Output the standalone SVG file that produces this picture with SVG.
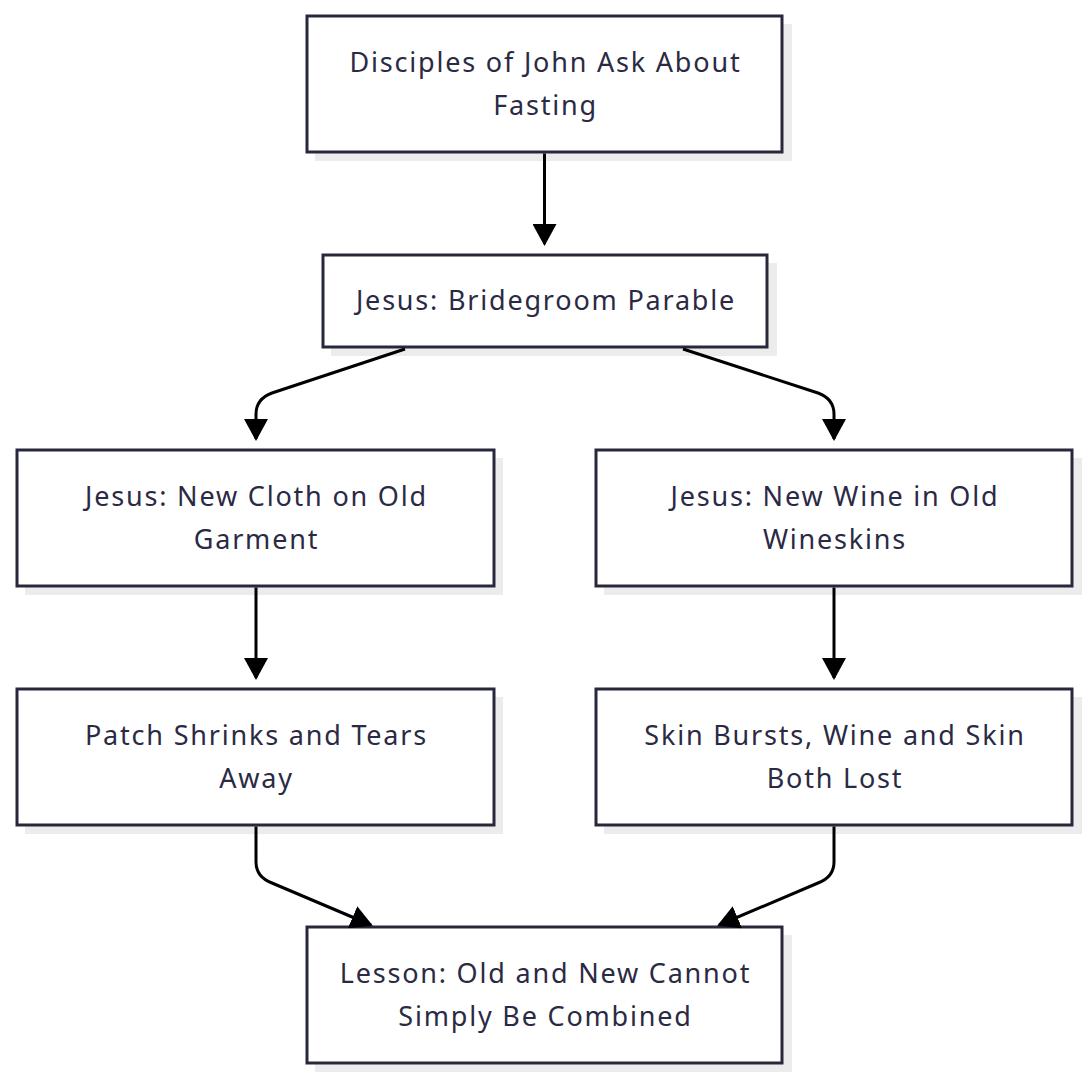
<svg xmlns="http://www.w3.org/2000/svg" width="1090" height="1080" viewBox="0 0 1090 1080">
<style>
.shadow{fill:#ececec;}
.box{fill:#ffffff;stroke:#28283c;stroke-width:3;}
.lbl{font-family:"Noto Sans","Open Sans","DejaVu Sans",sans-serif;font-size:27px;letter-spacing:1.8px;fill:#2b2a44;text-anchor:middle;dominant-baseline:central;}
.edge{fill:none;stroke:#000;stroke-width:3;}
</style>
<defs>
<marker id="arr" viewBox="0 0 22 24" refX="20" refY="12" markerWidth="22" markerHeight="24" markerUnits="userSpaceOnUse" orient="auto">
<path d="M0,0 L22,12 L0,24 z" fill="#000"/>
</marker>
</defs>
<rect width="1090" height="1080" fill="#ffffff"/>
<g id="n1">
<rect class="shadow" x="315" y="24" width="477" height="137"/>
<rect class="box" x="307" y="16" width="475" height="136"/>
<text class="lbl" x="545.5" y="61">Disciples of John Ask About</text>
<text class="lbl" x="545.5" y="104">Fasting</text>
</g>
<g id="n2">
<rect class="shadow" x="331" y="263" width="446" height="93"/>
<rect class="box" x="323" y="255" width="444" height="92"/>
<text class="lbl" x="546" y="299.5">Jesus: Bridegroom Parable</text>
</g>
<g id="n3">
<rect class="shadow" x="25" y="458" width="478" height="137"/>
<rect class="box" x="17" y="450" width="477" height="136"/>
<text class="lbl" x="256.5" y="495">Jesus: New Cloth on Old</text>
<text class="lbl" x="256.5" y="538">Garment</text>
</g>
<g id="n4">
<rect class="shadow" x="604" y="458" width="478" height="137"/>
<rect class="box" x="596" y="450" width="476" height="136"/>
<text class="lbl" x="835" y="495">Jesus: New Wine in Old</text>
<text class="lbl" x="835" y="538">Wineskins</text>
</g>
<g id="n5">
<rect class="shadow" x="25" y="697" width="478" height="137"/>
<rect class="box" x="17" y="689" width="477" height="136"/>
<text class="lbl" x="256.5" y="734">Patch Shrinks and Tears</text>
<text class="lbl" x="256.5" y="777">Away</text>
</g>
<g id="n6">
<rect class="shadow" x="604" y="697" width="478" height="137"/>
<rect class="box" x="596" y="689" width="476" height="136"/>
<text class="lbl" x="835" y="734">Skin Bursts, Wine and Skin</text>
<text class="lbl" x="835" y="777">Both Lost</text>
</g>
<g id="n7">
<rect class="shadow" x="315" y="935" width="477" height="137"/>
<rect class="box" x="307" y="927" width="475" height="136"/>
<text class="lbl" x="545.5" y="972">Lesson: Old and New Cannot</text>
<text class="lbl" x="545.5" y="1015">Simply Be Combined</text>
</g>
<g id="connectors">
<path class="edge" marker-end="url(#arr)" d="M544.5,153.5 L544.5,244"/>
<path class="edge" marker-end="url(#arr)" d="M405,349 L272,393 Q256,399 256,414 L256,439"/>
<path class="edge" marker-end="url(#arr)" d="M683,349 L818,393 Q834,399 834,414 L834,439"/>
<path class="edge" marker-end="url(#arr)" d="M256,587.5 L256,678"/>
<path class="edge" marker-end="url(#arr)" d="M834,587.5 L834,678"/>
<path class="edge" marker-end="url(#arr)" d="M256,826.5 L256,862 Q256,877 272,883 L371,925"/>
<path class="edge" marker-end="url(#arr)" d="M834,826.5 L834,862 Q834,877 818,883 L719,925"/>
</g>
</svg>
